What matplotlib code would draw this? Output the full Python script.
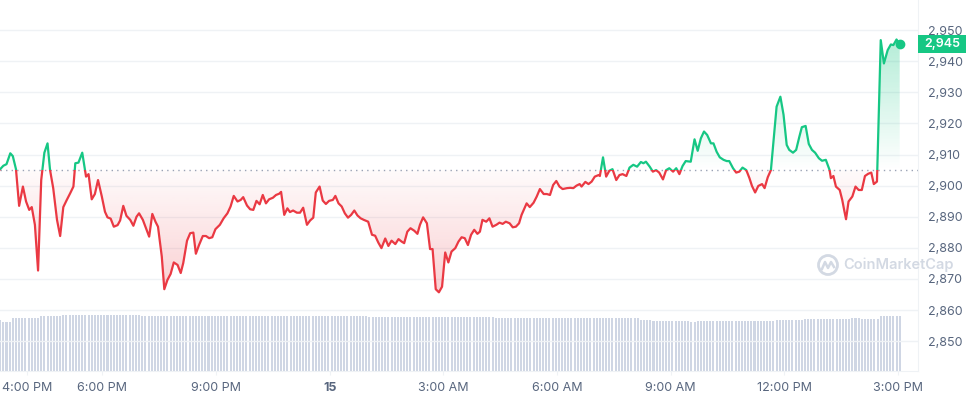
import numpy as np
import matplotlib.pyplot as plt
import matplotlib.patches as mpatches
import matplotlib.transforms as mtransforms
from matplotlib.path import Path
from matplotlib.colors import to_rgb

plt.rcParams['font.family'] = ['Inter', 'DejaVu Sans']

# price path, minutes after 15:00 on the 14th
minutes = [18, 23, 28, 34, 38, 43, 48, 54, 59, 64, 68, 73, 78, 83, 88, 93, 97, 102, 108, 113,
           118, 123, 129, 134, 137, 142, 148, 154, 158, 163, 168, 173, 179, 184, 188, 193, 198, 204, 208, 213,
           218, 224, 229, 234, 238, 244, 249, 254, 259, 264, 268, 274, 278, 283, 288, 293, 299, 304, 308, 314,
           319, 324, 328, 333, 339, 344, 349, 354, 359, 366, 372, 378, 383, 388, 394, 399, 403, 409, 414, 419,
           424, 429, 434, 439, 444, 450, 455, 460, 463, 468, 473, 477, 482, 488, 493, 498, 504, 509, 514, 518,
           524, 529, 534, 539, 545, 549, 554, 559, 564, 569, 574, 579, 584, 589, 594, 601, 607, 612, 617, 622,
           628, 633, 638, 644, 649, 654, 658, 663, 668, 674, 679, 683, 688, 694, 699, 703, 708, 713, 718, 723,
           728, 733, 739, 744, 749, 754, 759, 764, 769, 774, 778, 782, 788, 793, 798, 804, 809, 814, 819, 825,
           830, 835, 840, 844, 852, 857, 863, 868, 873, 879, 884, 889, 894, 899, 904, 909, 916, 921, 926, 931,
           936, 939, 945, 950, 955, 960, 966, 968, 973, 978, 983, 988, 994, 999, 1004, 1010, 1015, 1021, 1027, 1033,
           1037, 1041, 1047, 1052, 1057, 1062, 1068, 1073, 1078, 1084, 1089, 1094, 1099, 1104, 1112, 1118, 1123, 1128, 1133, 1138,
           1144, 1148, 1153, 1158, 1164, 1169, 1173, 1179, 1184, 1189, 1194, 1200, 1205, 1209, 1214, 1219, 1225, 1229, 1234, 1239,
           1243, 1248, 1254, 1259, 1264, 1268, 1274, 1279, 1284, 1288, 1294, 1299, 1304, 1309, 1315, 1320, 1326, 1332, 1334, 1338,
           1342, 1348, 1352, 1355, 1358, 1362, 1368, 1373, 1378, 1383, 1388, 1393, 1398, 1402, 1407, 1413, 1418, 1424, 1429, 1433,
           1438, 1443]
price = [2905.3, 2906.4, 2906.9, 2910.4, 2909.5, 2905.3, 2893.5, 2899.7, 2894.9, 2892.2, 2893.1, 2887.4, 2872.7, 2901.8, 2910.6, 2913.6, 2905.0, 2899.2, 2889.0, 2883.8,
         2893.1, 2895.2, 2897.6, 2899.7, 2907.2, 2907.4, 2910.6, 2902.9, 2903.7, 2895.6, 2897.3, 2901.8, 2896.5, 2891.6, 2889.8, 2889.4, 2886.8, 2887.3, 2888.8, 2893.5,
         2890.3, 2889.0, 2887.1, 2890.0, 2891.1, 2889.0, 2886.3, 2883.6, 2890.9, 2888.4, 2886.8, 2877.2, 2866.7, 2869.7, 2871.6, 2875.3, 2874.5, 2871.9, 2875.1, 2882.3,
         2884.7, 2884.9, 2878.1, 2880.9, 2883.8, 2883.8, 2883.1, 2883.4, 2886.0, 2887.4, 2889.5, 2891.1, 2893.3, 2896.7, 2894.9, 2895.4, 2896.3, 2893.6, 2892.4, 2892.2,
         2895.1, 2894.0, 2897.0, 2894.3, 2895.6, 2896.1, 2897.0, 2897.4, 2898.0, 2890.6, 2892.7, 2891.5, 2892.0, 2891.3, 2891.3, 2892.9, 2887.4, 2888.8, 2889.7, 2897.8,
         2899.7, 2895.2, 2894.1, 2895.1, 2895.4, 2896.7, 2894.3, 2893.3, 2891.1, 2889.7, 2890.6, 2892.0, 2890.4, 2889.5, 2889.0, 2888.4, 2884.2, 2883.9, 2881.7, 2879.9,
         2883.0, 2880.6, 2882.3, 2881.2, 2882.8, 2882.0, 2881.5, 2885.2, 2886.3, 2885.5, 2884.5, 2887.4, 2889.8, 2887.9, 2879.6, 2879.6, 2866.7, 2865.7, 2867.5, 2878.5,
         2875.3, 2878.8, 2879.9, 2882.0, 2883.4, 2883.1, 2880.9, 2884.2, 2885.8, 2884.5, 2885.2, 2889.0, 2888.4, 2889.5, 2886.8, 2887.4, 2888.1, 2887.7, 2888.4, 2887.9,
         2886.6, 2886.8, 2887.9, 2890.6, 2894.3, 2893.1, 2894.5, 2896.5, 2898.9, 2897.3, 2897.3, 2897.0, 2900.2, 2901.5, 2899.7, 2898.9, 2899.2, 2899.3, 2899.2, 2900.0,
         2900.5, 2899.7, 2901.2, 2900.5, 2901.3, 2902.9, 2903.4, 2903.1, 2909.1, 2902.9, 2904.8, 2905.3, 2901.8, 2903.4, 2903.7, 2903.1, 2905.8, 2906.7, 2906.1, 2907.6,
         2907.2, 2907.7, 2906.1, 2904.5, 2905.0, 2904.2, 2902.0, 2905.0, 2905.6, 2904.5, 2905.6, 2903.7, 2906.3, 2907.9, 2907.7, 2914.9, 2911.2, 2915.2, 2917.4, 2916.3,
         2913.6, 2913.6, 2910.9, 2909.1, 2908.3, 2907.9, 2907.9, 2905.6, 2904.2, 2904.5, 2905.8, 2905.0, 2902.4, 2899.9, 2897.8, 2899.9, 2900.5, 2899.2, 2902.7, 2905.0,
         2914.1, 2925.4, 2928.6, 2922.8, 2913.1, 2911.5, 2910.6, 2911.5, 2915.7, 2918.8, 2919.2, 2913.4, 2911.5, 2910.6, 2908.8, 2908.0, 2908.3, 2905.0, 2902.4, 2903.1,
         2899.7, 2898.6, 2895.4, 2892.2, 2889.2, 2894.9, 2896.5, 2899.7, 2898.6, 2898.6, 2903.1, 2903.8, 2904.2, 2900.5, 2901.3, 2946.8, 2939.3, 2943.6, 2945.4, 2945.2,
         2947.0, 2945.4]
open_price = 2905.0

# 24h volume bars (USD bn), runs of equal height, one bar per 5 min from minute 18
vol_levels = [13.0, 12.56, 13.44, 14.03, 14.28, 14.03, 13.69, 13.85, 13.59, 13.0, 12.74, 12.49,
              12.74, 13.0, 13.26, 13.59, 13.26, 14.1]
vol_runs = [1, 3, 9, 7, 25, 72, 35, 5, 46, 4, 12, 2, 25, 9, 15, 3, 6, 7]

tick_minutes = [60, 180, 360, 540, 720, 900, 1080, 1260, 1440]
tick_labels = ['4:00 PM', '6:00 PM', '9:00 PM', '15', '3:00 AM', '6:00 AM', '9:00 AM', '12:00 PM', '3:00 PM']
price_ticks = [2850, 2860, 2870, 2880, 2890, 2900, 2910, 2920, 2930, 2940, 2950]

assert len(minutes) == len(price)

GREEN = '#16c784'
RED = '#ea3943'
GRID = '#eff2f5'
LABEL = '#58667e'
XLIM = (17.7, 1472)
YLIM = (2840.5, 2959.7)

fig = plt.figure(figsize=(9.66, 3.96), dpi=100)
rect = [0, 0.064, 0.9503, 0.936]

# volume underneath
axv = fig.add_axes(rect)
vol = np.repeat(vol_levels, vol_runs)
vol_t = 18 + 5 * np.arange(len(vol))
axv.bar(vol_t, vol, width=3.2, color='#cfd6e4', lw=0)
axv.set_xlim(XLIM)
axv.set_ylim(0, 95)
axv.axis('off')

ax = fig.add_axes(rect)
ax.set_facecolor('none')
x = np.array(minutes, float)
y = np.array(price, float)


def gradient_fill(mask, color, a_base, a_far, y_far):
    coll = ax.fill_between(x, y, open_price, where=mask, interpolate=True,
                           facecolor='none', lw=0)
    clip = Path.make_compound_path(*coll.get_paths())
    lo, hi = sorted([open_price, y_far])
    alphas = np.linspace(a_base, a_far, 256)
    if y_far < open_price:
        alphas = alphas[::-1]
    rgba = np.zeros((256, 1, 4))
    rgba[..., :3] = to_rgb(color)
    rgba[:, 0, 3] = alphas
    im = ax.imshow(rgba, extent=[x[0], x[-1], lo, hi], origin='lower',
                   aspect='auto', interpolation='bilinear', zorder=1)
    im.set_clip_path(clip, ax.transData)


gradient_fill(y >= open_price, GREEN, 0.0, 0.32, y.max())
gradient_fill(y <= open_price, RED, 0.02, 0.24, y.min())

lg, = ax.plot(x, y, color=GREEN, lw=1.6, zorder=3)
lr, = ax.plot(x, y, color=RED, lw=1.6, zorder=3)
above = mpatches.Rectangle((XLIM[0], open_price), XLIM[1] - XLIM[0], 500, transform=ax.transData)
below = mpatches.Rectangle((XLIM[0], open_price - 500), XLIM[1] - XLIM[0], 500, transform=ax.transData)
lg.set_clip_path(above)
lr.set_clip_path(below)

ax.axhline(open_price, color='#9aa3b5', lw=1, ls=(0, (1, 3)), zorder=2)
ax.plot(x[-1], y[-1], 'o', color=GREEN, ms=6, zorder=4)

ax.set_xlim(XLIM)
ax.set_ylim(YLIM)
ax.set_yticks(price_ticks)
ax.set_yticklabels([f'{v:,}' for v in price_ticks])
ax.yaxis.tick_right()
ax.tick_params(axis='y', length=0, pad=7, labelsize=9, labelcolor=LABEL)
ax.grid(axis='y', color=GRID, lw=1)
ax.set_axisbelow(True)
ax.set_xticks(tick_minutes)
ax.set_xticklabels(tick_labels)
ax.tick_params(axis='x', length=3, color=GRID, pad=5, labelsize=9, labelcolor=LABEL)
for lab in ax.get_xticklabels():
    if lab.get_text() == '15':
        lab.set_fontweight('bold')
for s in ['left', 'top']:
    ax.spines[s].set_visible(False)
for s in ['bottom', 'right']:
    ax.spines[s].set_color(GRID)

# last price tag
bt = mtransforms.blended_transform_factory(ax.transAxes, ax.transData)
tag_w = 48 / 918
ax.add_patch(mpatches.Rectangle((1.0, y[-1] - 2.9), tag_w, 5.8, transform=bt,
                                facecolor=GREEN, edgecolor='none', clip_on=False, zorder=5))
ax.text(1.0 + tag_w / 2, y[-1], f'{y[-1]:,.0f}', transform=bt, ha='center', va='center',
        color='white', fontsize=9, fontweight='semibold', zorder=6, clip_on=False)

# watermark
wm = '#d3d9e3'
fig.add_artist(mpatches.Ellipse((828 / 966, 1 - 265 / 396), 19 / 966, 19 / 396,
                                transform=fig.transFigure, facecolor='none', edgecolor=wm, lw=2))
fig.add_artist(plt.Line2D(np.array([822, 825, 828, 831, 834]) / 966,
                          1 - np.array([269, 262, 268, 262, 267]) / 396,
                          transform=fig.transFigure, color=wm, lw=1.8))
fig.text(843 / 966, 1 - 265 / 396, 'CoinMarketCap', color=wm, fontsize=10.5,
         fontweight='semibold', va='center', ha='left')

fig.savefig('out.png', dpi=100)
